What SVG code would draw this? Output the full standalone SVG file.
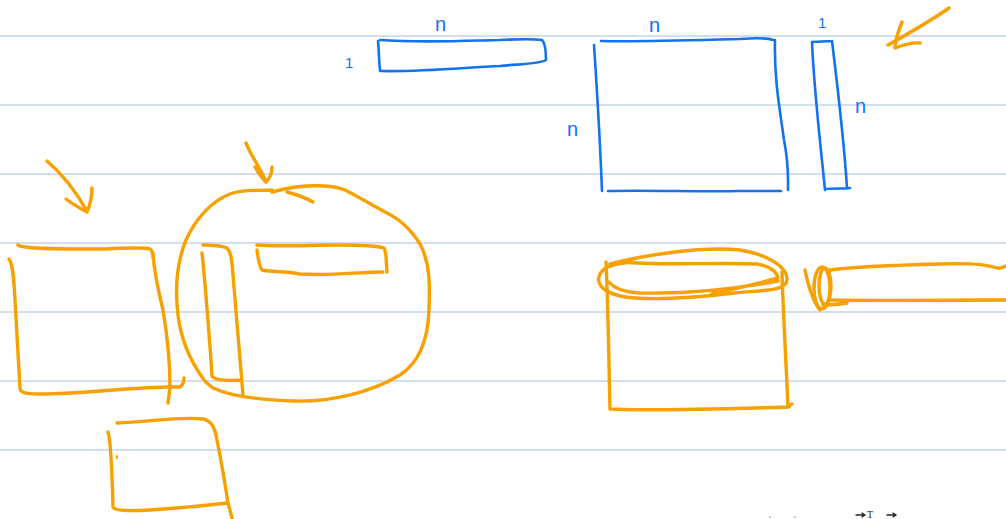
<svg xmlns="http://www.w3.org/2000/svg" width="1006" height="519" viewBox="0 0 1006 519">
<style>
.rule{stroke:#aac0dc;stroke-width:1.2}
.b{fill:none;stroke:#1372ee;stroke-width:2.6;stroke-linecap:round;stroke-linejoin:round}
.o{fill:none;stroke:#f7a100;stroke-width:3.4;stroke-linecap:round;stroke-linejoin:round}
.lbl{font-family:"Liberation Sans",Arial,sans-serif;font-size:20px;fill:#1372ee}
.one{font-family:"Liberation Sans",Arial,sans-serif;font-size:15px;fill:#1372ee}
.tiny{font-family:"Liberation Serif","Times New Roman",serif;font-size:10px;fill:#222}
.m{fill:none;stroke:#222;stroke-width:1.3;stroke-linecap:round}
</style>
<rect width="1006" height="519" fill="#ffffff"/>
<g id="paper-lines">
<line class="rule" x1="0" y1="36" x2="1006" y2="36"/>
<line class="rule" x1="0" y1="105" x2="1006" y2="105"/>
<line class="rule" x1="0" y1="174" x2="1006" y2="174"/>
<line class="rule" x1="0" y1="243" x2="1006" y2="243"/>
<line class="rule" x1="0" y1="312" x2="1006" y2="312"/>
<line class="rule" x1="0" y1="381" x2="1006" y2="381"/>
<line class="rule" x1="0" y1="450" x2="1006" y2="450"/>
</g>

<g id="row-vector">
<text class="lbl" x="435" y="31">n</text>
<text class="one" x="345" y="68">1</text>
<path class="b" d="M380 40 C420 43 460 41 500 40 C520 39 535 39 542 40 C546 44 546 54 546 60 C540 64 520 64 500 66 C460 68 420 72 380 71 M378 41 C379 52 379 62 380 70"/>
</g>

<g id="square-matrix">
<text class="lbl" x="649" y="32">n</text>
<text class="lbl" x="567" y="136">n</text>
<path class="b" d="M601 41 C640 42 700 40 740 39 C755 38 768 38 773 40 M594 45 C597 90 600 140 602 191 M775 40 C774 80 780 110 784 140 C789 165 788 180 788 190 M608 191 C650 190 700 192 740 191 C760 191 775 191 781 191"/>
</g>

<g id="column-vector">
<text class="one" x="818" y="28">1</text>
<text class="lbl" x="855" y="113">n</text>
<path class="b" d="M812 42 L832 41 M812 42 C814 90 820 140 825 190 M832 41 C838 90 844 140 847 188 M825 189 C835 188 843 189 850 188"/>
</g>

<g id="left-square">
<path class="o" d="M18 245 C22 249 60 249 100 249 C130 248 145 247 150 249 C153 251 153 255 153 258 M153 253 C154 270 158 290 163 310 C168 340 170 370 170 387 L168 403 M9 259 C13 264 14 280 15 300 C17 340 19 370 20 388 C20 392 23 394 40 394 C80 394 120 388 167 387 L180 387 C183 385 184 381 184 378"/>
</g>

<g id="bottom-square">
<path class="o" d="M117 423 C150 422 180 416 203 419 C212 421 215 428 217 440 C221 460 226 490 228 503 L232 518 M108 432 C111 440 112 470 113 507 C114 511 130 511 150 510 C180 508 210 505 227 503"/>
<path class="o" d="M117 456 L117 458" style="stroke-width:2"/>
</g>

<g id="grouped-blob">
<path class="o" d="M272 190 C255 191 243 189 230 194 C212 201 196 218 186 240 C177 262 175 290 178 315 C181 340 190 360 202 377 C206 384 210 385 213 388 C230 396 260 400 295 401 C330 402 370 393 400 375 C420 362 428 340 429 310 C430 285 430 262 420 244 C410 228 398 218 385 212 C370 204 357 196 345 190 C330 184 300 184 272 192"/>
<path class="o" d="M287 192 C298 195 306 198 313 202"/>
<path class="o" d="M203 245 C212 245 222 246 227 248 C231 252 232 260 233 275 C236 310 240 360 243 395 M202 253 C205 280 208 320 211 360 L212 376 C214 380 225 381 242 380"/>
<path class="o" d="M257 245 C275 247 310 245 340 245 C360 245 378 246 384 248 C387 253 386 265 387 272 M257 250 C258 258 259 266 262 270 C270 272 285 271 300 274 C330 276 360 272 383 272"/>
</g>

<g id="cylinder-block">
<path class="o" d="M610 264 C640 256 700 246 740 250 C770 255 788 268 787 280 C786 292 760 290 735 293 C700 297 650 302 620 296 C600 291 596 282 600 274 C604 266 615 264 625 263"/>
<path class="o" d="M623 262 C660 266 720 262 757 264 C770 266 777 272 778 278 C760 283 730 290 712 294 M609 282 C614 288 622 292 640 293 C680 294 730 290 778 281"/>
<path class="o" d="M606 262 C608 300 609 370 610 409 C640 411 720 409 789 407 M782 272 C783 310 786 360 788 407 L792 404"/>
</g>

<g id="rolled-tube">
<path class="o" d="M805 270 C808 285 812 300 820 310 M823 305 C830 305 840 304 847 303"/>
<ellipse class="o" cx="822" cy="288" rx="8" ry="21"/>
<ellipse class="o" cx="825" cy="286" rx="6" ry="18"/>
<path class="o" d="M830 270 C860 266 900 265 940 264 C965 263 985 264 997 268 C1000 269 1003 267 1006 266 M830 300 C880 301 940 300 1006 300"/>
</g>

<g id="connectors">
<path class="o" d="M47 161 C60 172 75 190 87 211 M92 188 C92 198 90 205 87 212 C80 208 72 204 66 199"/>
<path class="o" d="M246 143 C252 158 262 170 266 182 M272 167 C272 173 270 178 266 182 C262 178 258 172 255 167"/>
<path class="o" d="M949 8 C935 18 915 30 888 45 M902 22 C898 32 895 40 895 48 C903 45 912 42 920 43"/>
</g>

<g id="cut-formula">
<circle cx="770" cy="517" r="0.8" fill="#888"/>
<circle cx="795" cy="517" r="0.8" fill="#888"/>
<path class="m" d="M856 515 H865 M862 513 L865 515 L862 517"/>
<text class="tiny" x="867" y="518">T</text>
<path class="m" d="M887 515 H896 M893 513 L896 515 L893 517"/>
</g>
</svg>
